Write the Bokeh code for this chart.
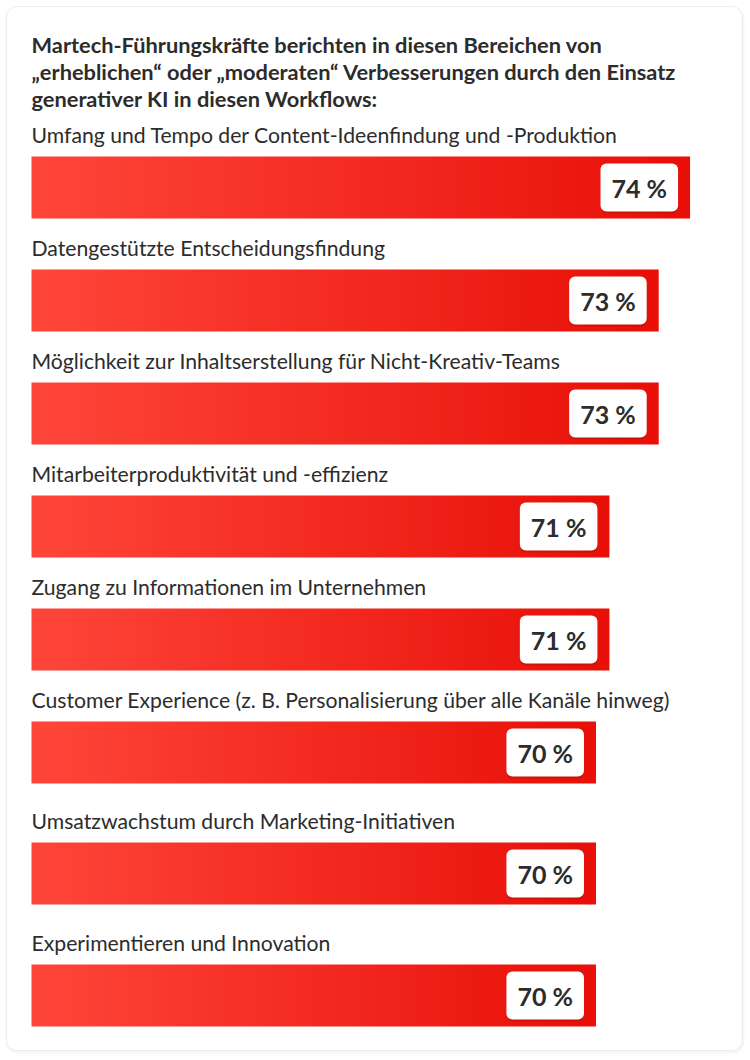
import numpy as np
from bokeh.plotting import figure
from bokeh.models import Range1d
from bokeh.core.properties import value
from bokeh.embed import file_html
from bokeh.resources import INLINE

# ---- data ----
title_lines = ["Martech-Führungskräfte berichten in diesen Bereichen von",
               "„erheblichen“ oder „moderaten“ Verbesserungen durch den Einsatz",
               "generativer KI in diesen Workflows:"]
categories = [
    "Umfang und Tempo der Content-Ideenfindung und -Produktion",
    "Datengestützte Entscheidungsfindung",
    "Möglichkeit zur Inhaltserstellung für Nicht-Kreativ-Teams",
    "Mitarbeiterproduktivität und -effizienz",
    "Zugang zu Informationen im Unternehmen",
    "Customer Experience (z. B. Personalisierung über alle Kanäle hinweg)",
    "Umsatzwachstum durch Marketing-Initiativen",
    "Experimentieren und Innovation",
]
# estimated underlying shares (bar lengths), shown rounded
shares = [74.4, 73.0, 73.0, 70.8, 70.8, 70.2, 70.2, 70.2]
labels = [f"{round(s)} %" for s in shares]

# ---- layout (pixels from top) ----
W, H = 750, 1060
title_y = [44, 71, 98]
row_top = [156, 269, 382, 495, 608, 721, 842, 964]
bar_h = 62
left_px = 31
base = 45.0          # value at bar start
px_per_unit = 22.4
val_start = base - left_px / px_per_unit
val_end = val_start + W / px_per_unit

p = figure(width=W, height=H, x_range=Range1d(0, W), y_range=Range1d(H, 0),
           output_backend="svg", toolbar_location=None, min_border=0,
           x_axis_location=None, y_axis_location=None)
p.extra_x_ranges = {"val": Range1d(val_start, val_end)}
p.grid.visible = False
p.outline_line_color = None
p.background_fill_color = "white"
p.border_fill_color = "white"

# card with soft shadow
p.quad(left=5, right=744, top=7, bottom=1053, fill_color="black", fill_alpha=0.035,
       line_color=None, border_radius=12)
p.quad(left=6, right=742, top=6, bottom=1050, fill_color="white",
       line_color="#ececec", line_width=1, border_radius=10)

FONT = value("Lato")
DARK = "#2c2c2c"

# title
p.text(x=[left_px] * len(title_lines), y=title_y, text=title_lines, text_font=FONT,
       text_font_style="bold", text_font_size="21.8px", text_color=DARK,
       text_baseline="middle")

# category labels
p.text(x=[left_px] * len(categories), y=[t - 22 for t in row_top], text=categories,
       text_font=FONT, text_font_size="21.2px", text_color=DARK, text_baseline="middle")

# gradient bars
cols = 256
t = np.linspace(0, 1, cols)
c0 = np.array([255, 70, 58])
c1 = np.array([232, 16, 8])
rgb = (c0[None, :] * (1 - t[:, None]) + c1[None, :] * t[:, None]).astype(np.uint8)
img = np.empty((1, cols), dtype=np.uint32)
view = img.view(dtype=np.uint8).reshape((1, cols, 4))
view[0, :, 0] = rgb[:, 0]
view[0, :, 1] = rgb[:, 1]
view[0, :, 2] = rgb[:, 2]
view[0, :, 3] = 255
n = len(shares)
p.image_rgba(image=[img] * n, x=[base] * n, y=row_top,
             dw=[s - base for s in shares], dh=[bar_h] * n, x_range_name="val")

# value labels (white boxes)
centers = [t0 + bar_h / 2 for t0 in row_top]
pad = dict(left=11, right=11, top=9, bottom=9)
p.text(x=shares, y=[c + 2 for c in centers], text=labels, x_range_name="val",
       text_align="right", text_baseline="middle", x_offset=-12,
       text_font=FONT, text_font_style="bold", text_font_size="25px",
       text_alpha=0, background_fill_color="black", background_fill_alpha=0.12,
       border_radius=6, padding=pad)
p.text(x=shares, y=centers, text=labels, x_range_name="val",
       text_align="right", text_baseline="middle", x_offset=-12,
       text_font=FONT, text_font_style="bold", text_font_size="25px",
       text_color=DARK, background_fill_color="white",
       border_radius=6, padding=pad)

open("out.html", "w").write(file_html(p, INLINE))
